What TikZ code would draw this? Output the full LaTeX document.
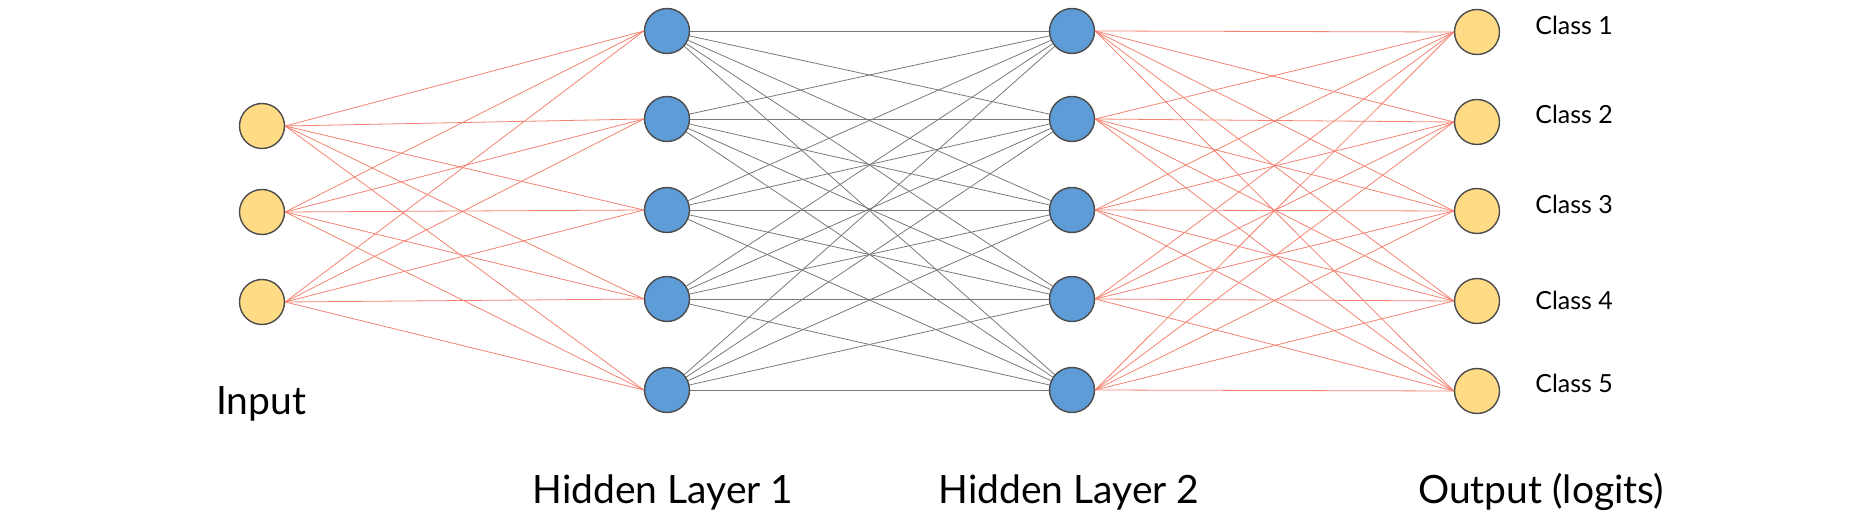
\documentclass[tikz,border=0pt]{standalone}
\usepackage{fontspec}
\setmainfont{Lato}
\definecolor{unityellow}{RGB}{255,219,134}
\definecolor{unitblue}{RGB}{93,156,214}
\definecolor{wirered}{RGB}{244,130,114}
\definecolor{wiregray}{RGB}{120,120,120}
\tikzset{
  unit/.style={circle, draw=black!70, line width=0.8pt, minimum size=0.9cm, inner sep=0pt},
  inunit/.style={unit, fill=unityellow},
  hidunit/.style={unit, fill=unitblue},
  redwire/.style={draw=wirered, line width=0.45pt},
  graywire/.style={draw=wiregray, line width=0.45pt},
  layerlabel/.style={font=\fontsize{22.2}{26}\selectfont, anchor=base, inner sep=0pt},
  classlabel/.style={font=\fontsize{14.2}{17}\selectfont, anchor=base west, inner sep=0pt}
}

\begin{document}
\begin{tikzpicture}[x=0.02cm, y=-0.02cm]
\useasboundingbox (0,0) rectangle (1868,516);

% units
\foreach \i/\y in {1/126, 2/212, 3/302}
  \node[inunit] (in\i) at (262,\y) {};
\foreach \i/\y in {1/31, 2/119, 3/210, 4/299, 5/390}
{
  \node[hidunit] (ha\i) at (667,\y) {};
  \node[hidunit] (hb\i) at (1072,\y) {};
}
\foreach \i/\y/\b in {1/32/35, 2/122/124, 3/211/214, 4/301/310, 5/391/393}
{
  \node[inunit] (out\i) at (1477,\y) {};
  \node[classlabel] (cls\i) at (1535,\b) {Class \i};
}

% weights
\foreach \i in {1,2,3}
  \foreach \j in {1,...,5}
    \draw[redwire] (in\i.east) -- (ha\j.west);
\foreach \i in {1,...,5}
  \foreach \j in {1,...,5}
  {
    \draw[graywire] (ha\i) -- (hb\j);
    \draw[redwire] (hb\i.east) -- (out\j.west);
  }

% layer names
\node[layerlabel] (inlbl) at (261,415) {Input};
\node[layerlabel] (halbl) at (663,503) {Hidden Layer 1};
\node[layerlabel] (hblbl) at (1069,503) {Hidden Layer 2};
\node[layerlabel] (outlbl) at (1541,503) {Output (logits)};
\end{tikzpicture}
\end{document}
